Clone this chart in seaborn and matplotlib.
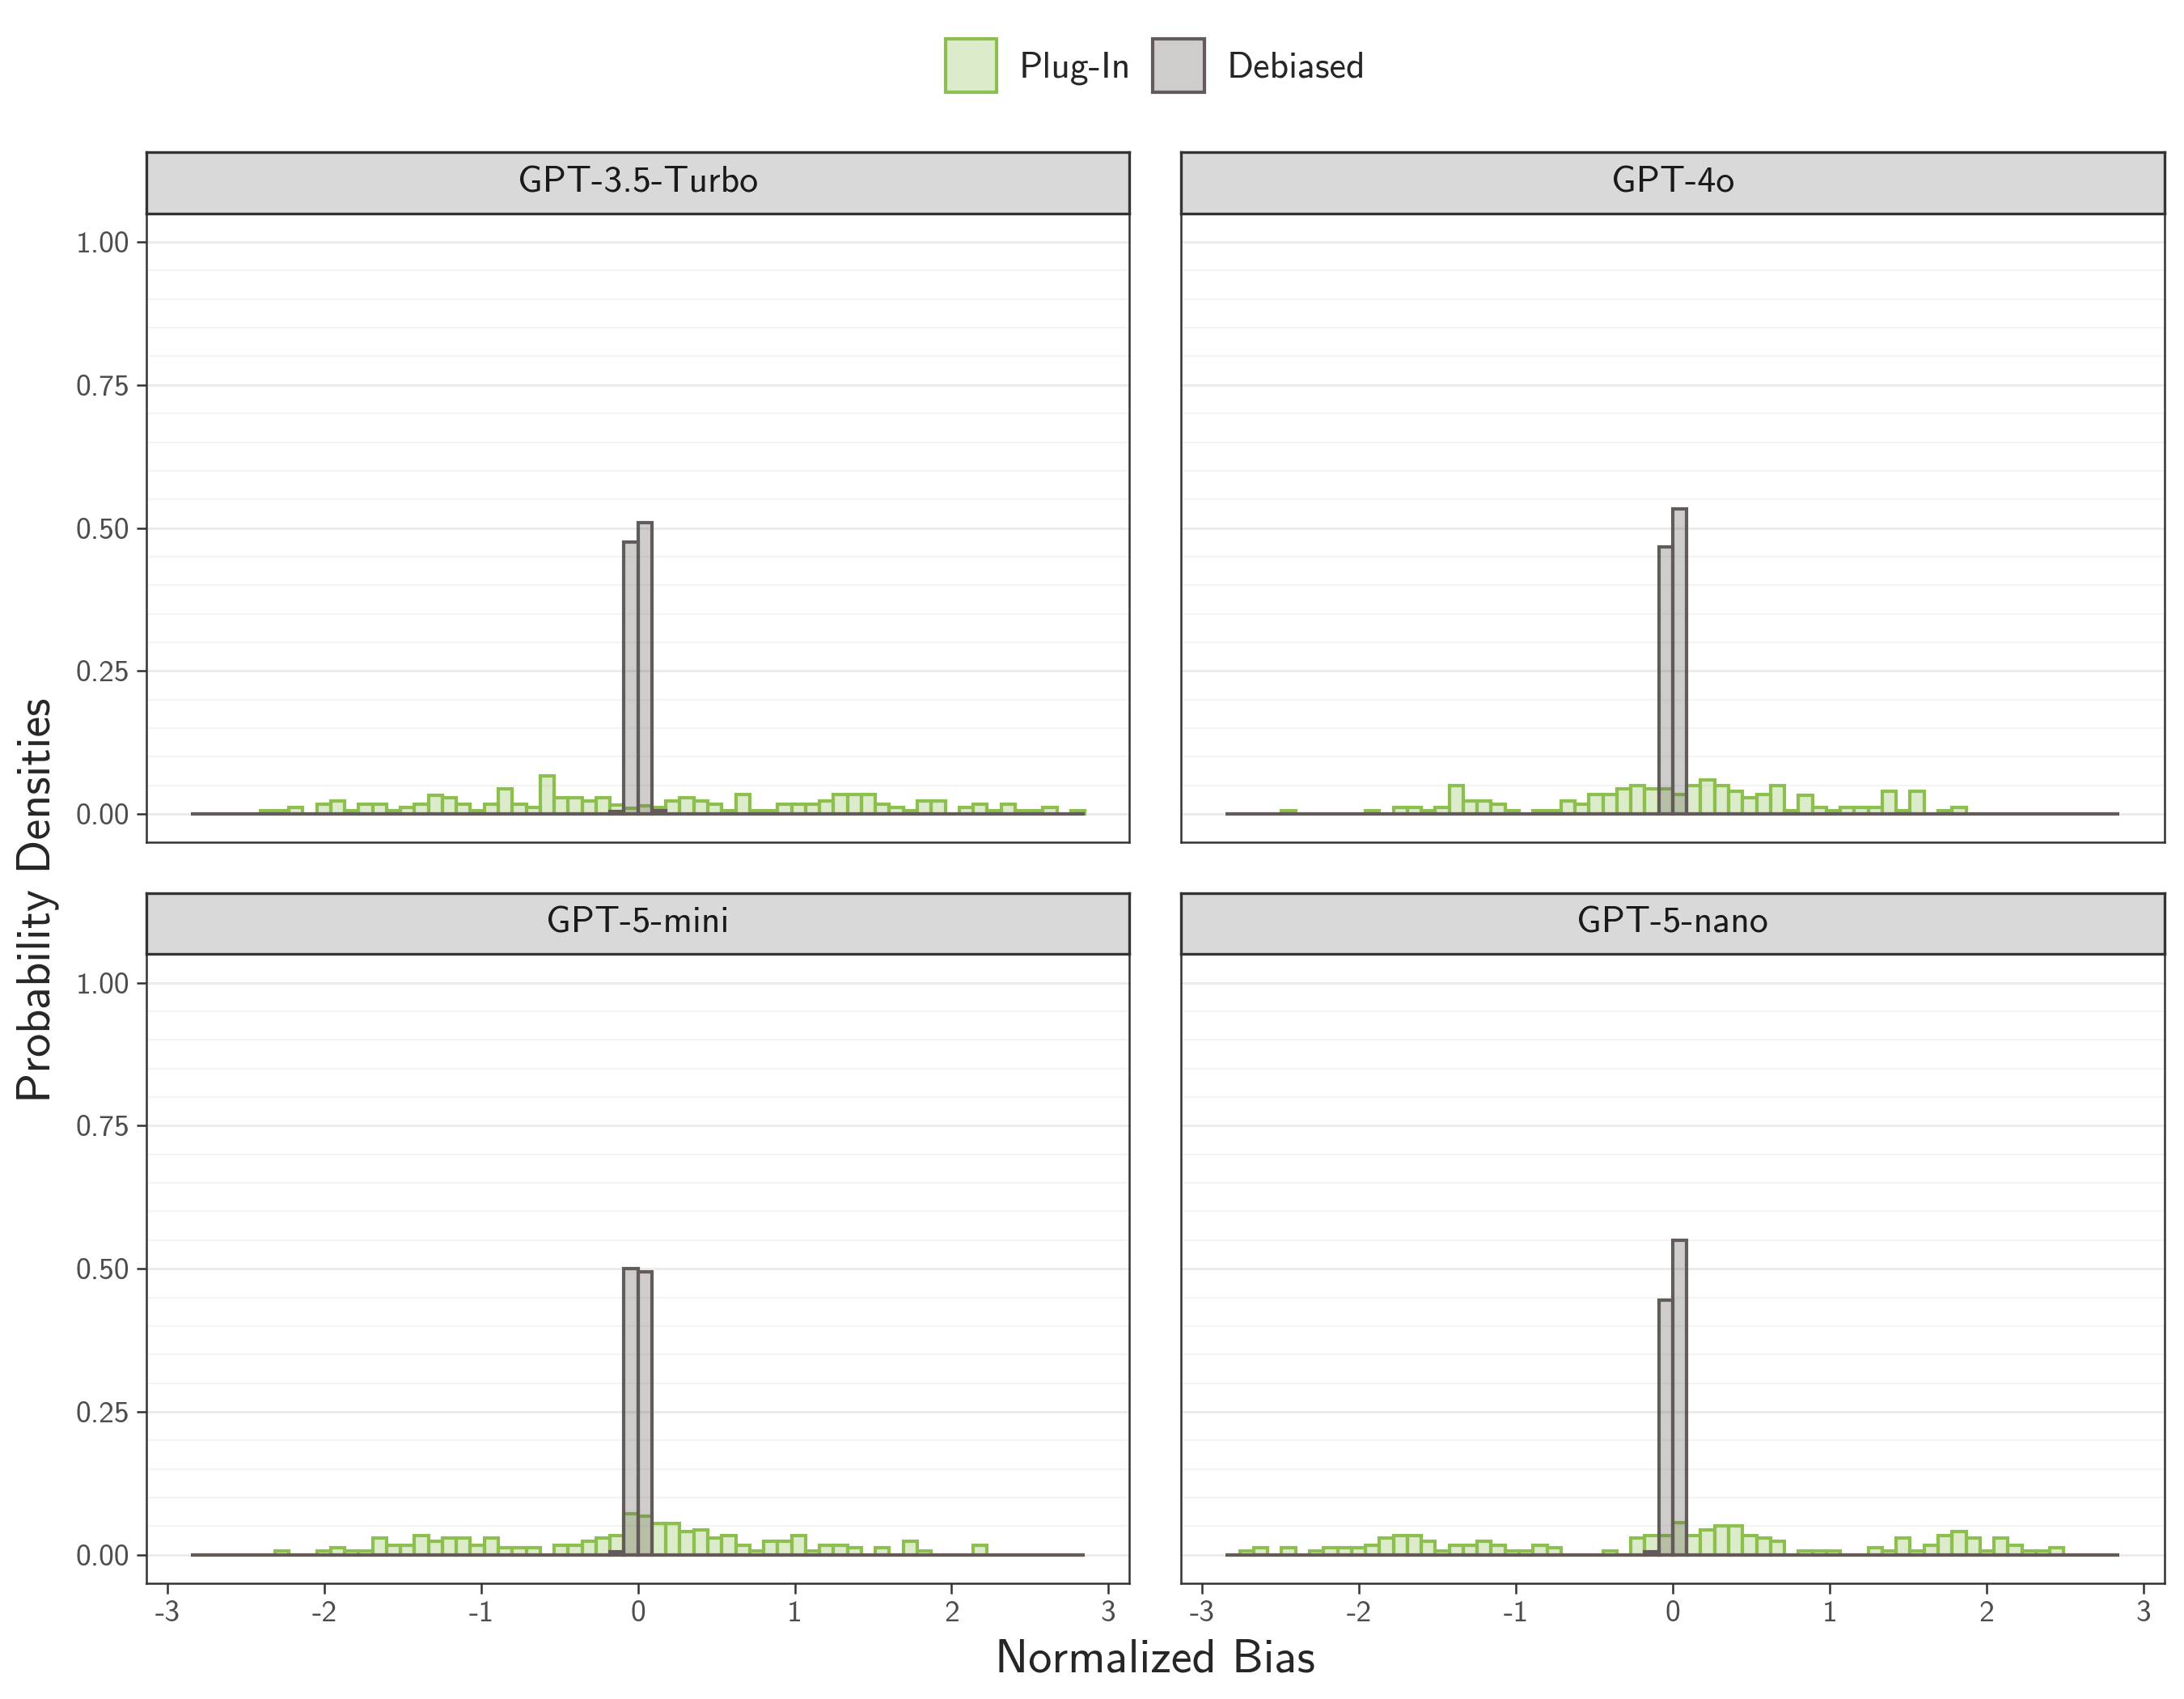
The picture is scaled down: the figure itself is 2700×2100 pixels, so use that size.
import numpy as np
import pandas as pd
import matplotlib
matplotlib.use("Agg")
import matplotlib.pyplot as plt
import seaborn as sns
from matplotlib.patches import Patch

# ---------------- data ----------------
models = ["GPT-3.5-Turbo", "GPT-4o", "GPT-5-mini", "GPT-5-nano"]
methods = ["Plug-In", "Debiased"]
bin_edges = list(np.linspace(-2.85, 2.85, 65))
x_ticks = [-3, -2, -1, 0, 1, 2, 3]
x_tick_labels = ["-3", "-2", "-1", "0", "1", "2", "3"]
y_ticks = [0.0, 0.25, 0.5, 0.75, 1.0]
y_tick_labels = ["0.00", "0.25", "0.50", "0.75", "1.00"]

# proportion per bin (64 bins, left to right)
plugin_gpt35 = [0, 0, 0, 0, 0,
                0.006, 0.006, 0.011, 0, 0.017, 0.022, 0.006, 0.017, 0.017, 0.006,
                0.011, 0.017, 0.033, 0.028, 0.017, 0.006, 0.017, 0.044, 0.017, 0.011,
                0.066, 0.028, 0.028, 0.022, 0.028, 0.015, 0.010,
                0.014, 0.011, 0.022, 0.028, 0.022, 0.017, 0.006, 0.034, 0.006, 0.006,
                0.017, 0.017, 0.017, 0.022, 0.034, 0.034, 0.034, 0.017, 0.011, 0.006,
                0.022, 0.022, 0, 0.011, 0.017, 0.006, 0.017, 0.006, 0.006, 0.011,
                0, 0.006]
debiased_gpt35 = [0] * 30 + [0.005, 0.476, 0.510, 0.006] + [0] * 30

plugin_gpt4o = [0, 0, 0, 0,
                0.006, 0, 0, 0, 0, 0, 0.006, 0, 0.011, 0.011, 0.006, 0.011,
                0.050, 0.022, 0.022, 0.017, 0.006, 0, 0.006, 0.006, 0.022, 0.017,
                0.034, 0.034, 0.044, 0.050, 0.044, 0.044,
                0.034, 0.050, 0.060, 0.050, 0.039, 0.028, 0.034, 0.050, 0.006, 0.033,
                0.011, 0.006, 0.011, 0.011, 0.011, 0.039, 0.006, 0.039, 0, 0.006,
                0.011, 0, 0, 0, 0, 0, 0, 0, 0, 0, 0, 0]
debiased_gpt4o = [0] * 31 + [0.467, 0.533] + [0] * 31

plugin_gpt5mini = [0, 0, 0, 0, 0, 0,
                   0.006, 0, 0, 0.006, 0.012, 0.006, 0.006, 0.029, 0.017, 0.017,
                   0.034, 0.023, 0.029, 0.029, 0.017, 0.029, 0.012, 0.012, 0.012, 0,
                   0.017, 0.017, 0.023, 0.029, 0.034, 0.072,
                   0.067, 0.055, 0.055, 0.041, 0.044, 0.029, 0.034, 0.017, 0.006, 0.023,
                   0.023, 0.034, 0.006, 0.017, 0.017, 0.012, 0, 0.012, 0, 0.023,
                   0.006, 0, 0, 0, 0.017, 0, 0, 0, 0, 0, 0, 0]
debiased_gpt5mini = [0] * 30 + [0.005, 0.500, 0.495] + [0] * 31

plugin_gpt5nano = [0, 0.006, 0.012, 0, 0.012, 0, 0.006, 0.012, 0.012, 0.012,
                   0.017, 0.029, 0.034, 0.034, 0.023, 0.006, 0.017, 0.017, 0.023, 0.017,
                   0.006, 0.006, 0.017, 0.012, 0, 0, 0, 0.006, 0, 0.029,
                   0.034, 0.034,
                   0.056, 0.034, 0.044, 0.050, 0.050, 0.034, 0.029, 0.023, 0, 0.006,
                   0.006, 0.006, 0, 0, 0.012, 0.006, 0.029, 0.006, 0.017, 0.034,
                   0.040, 0.029, 0.006, 0.029, 0.017, 0.006, 0.006, 0.012, 0, 0,
                   0, 0]
debiased_gpt5nano = [0] * 30 + [0.005, 0.445, 0.550] + [0] * 31

series = {
    "GPT-3.5-Turbo": {"Plug-In": plugin_gpt35, "Debiased": debiased_gpt35},
    "GPT-4o": {"Plug-In": plugin_gpt4o, "Debiased": debiased_gpt4o},
    "GPT-5-mini": {"Plug-In": plugin_gpt5mini, "Debiased": debiased_gpt5mini},
    "GPT-5-nano": {"Plug-In": plugin_gpt5nano, "Debiased": debiased_gpt5nano},
}

edges_arr = np.array(bin_edges)
bin_centers = (edges_arr[:-1] + edges_arr[1:]) / 2
rows = []
for m in models:
    for meth in methods:
        for c, v in zip(bin_centers, series[m][meth]):
            rows.append({"model": m, "method": meth, "bias": float(c), "weight": float(v)})
df = pd.DataFrame(rows)

# ---------------- style ----------------
sns.set_theme(style="white")
plt.rcParams["font.family"] = ["cmss10", "DejaVu Sans"]
plt.rcParams["axes.unicode_minus"] = False
plt.rcParams["axes.formatter.use_mathtext"] = True

edge_col = {"Plug-In": "#8DBF4F", "Debiased": "#625B59"}
fill_col = {"Plug-In": (0.553, 0.749, 0.310, 0.30),
            "Debiased": (0.384, 0.357, 0.349, 0.30)}

fig = plt.figure(figsize=(9, 7), dpi=300)

col_x = [0.0670, 0.5408]
col_w = 0.4502
row_bottom = [0.5041, 0.0681]
panel_h = 0.3703
strip_h = 0.0361
center_x = (col_x[0] + col_x[1] + col_w) / 2

for idx, m in enumerate(models):
    r, c = divmod(idx, 2)
    ax = fig.add_axes([col_x[c], row_bottom[r], col_w, panel_h])
    ax.set_facecolor("white")
    sub = df[df["model"] == m]
    for meth in methods:
        d = sub[sub["method"] == meth].reset_index(drop=True)
        n0 = len(ax.patches)
        sns.histplot(data=d, x="bias", weights="weight", bins=bin_edges,
                     stat="count", element="bars", fill=True,
                     color=edge_col[meth], ax=ax, legend=False)
        for p in ax.patches[n0:]:
            p.set_facecolor(fill_col[meth])
            p.set_edgecolor(edge_col[meth])
            p.set_linewidth(1.0)
            p.set_zorder(3)
    ax.set_xlim(-3.135, 3.135)
    ax.set_ylim(-0.05, 1.05)
    ax.set_xlabel("")
    ax.set_ylabel("")
    ax.set_yticks(y_ticks)
    ax.set_yticks(np.arange(0, 1.0001, 0.05), minor=True)
    ax.set_xticks(x_ticks)
    ax.set_axisbelow(True)
    ax.yaxis.grid(True, which="major", color="#EBEBEB", linewidth=0.7, zorder=0)
    ax.yaxis.grid(True, which="minor", color="#F4F4F4", linewidth=0.5, zorder=0)
    ax.xaxis.grid(False)
    ax.tick_params(axis="y", which="minor", length=0)
    ax.tick_params(axis="x", which="minor", length=0)
    for s in ax.spines.values():
        s.set_color("#333333")
        s.set_linewidth(0.6)
    if c == 0:
        ax.set_yticklabels(y_tick_labels)
        ax.tick_params(axis="y", which="major", length=3, width=0.6,
                       color="#333333", labelsize=9, labelcolor="#4D4D4D", pad=2,
                       left=True)
    else:
        ax.tick_params(axis="y", which="major", length=0, labelleft=False)
    if r == 1:
        ax.set_xticklabels(x_tick_labels)
        ax.tick_params(axis="x", which="major", length=3, width=0.6,
                       color="#333333", labelsize=9, labelcolor="#4D4D4D", pad=2,
                       bottom=True)
    else:
        ax.tick_params(axis="x", which="major", length=0, labelbottom=False)

    sax = fig.add_axes([col_x[c], row_bottom[r] + panel_h, col_w, strip_h])
    sax.set_facecolor("#D9D9D9")
    sax.set_xticks([])
    sax.set_yticks([])
    for k, s in sax.spines.items():
        s.set_color("#333333")
        s.set_linewidth(0.8)
    sax.text(0.5, 0.5, m, ha="center", va="center", fontsize=11,
             color="#1A1A1A", transform=sax.transAxes)

handles = [Patch(facecolor=fill_col[mm], edgecolor=edge_col[mm], linewidth=1.0,
                 label=mm) for mm in methods]
fig.legend(handles=handles, loc="center", bbox_to_anchor=(center_x, 0.9614), ncol=2,
           frameon=False, fontsize=11, handlelength=1.38, handleheight=1.85,
           handletextpad=0.6, columnspacing=0.6)

fig.text(center_x, 0.023, "Normalized Bias", ha="center", va="center", fontsize=14)
fig.text(0.0172, 0.47, "Probability Densities", ha="center", va="center",
         rotation=90, fontsize=14)

fig.savefig("out.png", dpi=300)
